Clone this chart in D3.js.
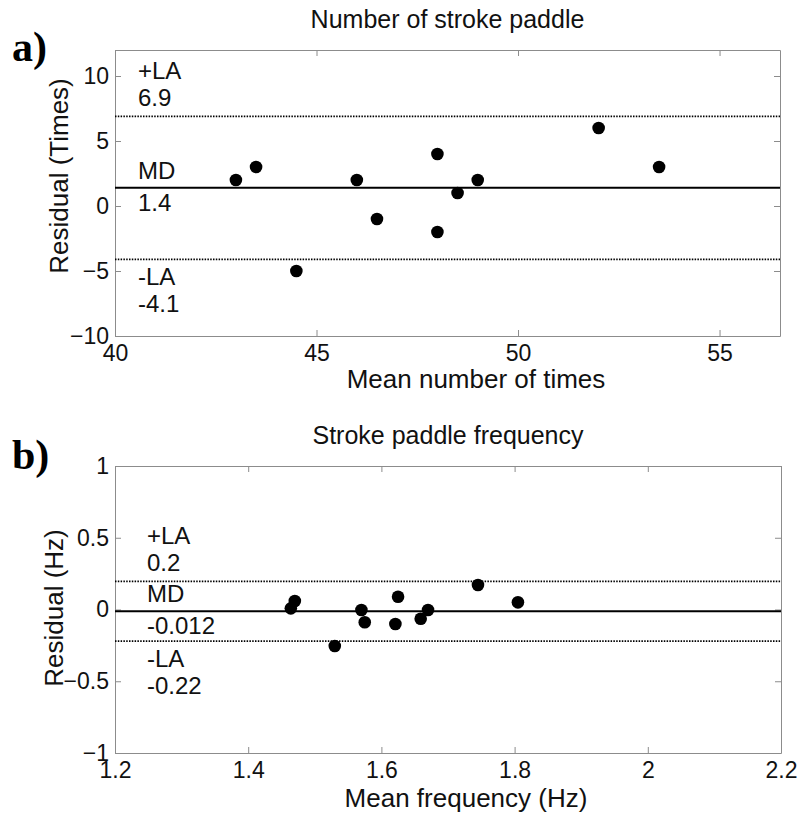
<!DOCTYPE html>
<html>
<head>
<meta charset="utf-8">
<script src="https://cdn.jsdelivr.net/npm/d3@7"></script>
<style>
  body { margin: 0; background: #fff; }
  svg { display: block; font-family: "Liberation Sans", Arial, sans-serif; }
  .axis path, .axis line { stroke: #8c8c8c; }
  .axis text { font-size: 23px; fill: #111; font-family: "Liberation Sans", Arial, sans-serif; }
</style>
</head>
<body>
<svg id="chart"></svg>
<script>
//////////////// Daten ////////////////////
// a) Number of stroke paddle
const strokeMean  = [43, 43.5, 44.5, 46, 46.5, 48, 48, 48.5, 49, 52, 53.5];
const strokeResid = [2, 3, -5, 2, -1, 4, -2, 1, 2, 6, 3];
const strokeLimits = [6.9, 1.4, -4.1];          // +LA, MD, -LA
const strokeLimitText = ["6.9", "1.4", "-4.1"];
const strokeXTicks = [40, 45, 50, 55];
const strokeYTicks = [-10, -5, 0, 5, 10];

// b) Stroke paddle frequency
const freqMean  = [1.464, 1.470, 1.530, 1.570, 1.575, 1.621, 1.625, 1.659, 1.670, 1.745, 1.805];
const freqResid = [0.008, 0.059, -0.254, -0.003, -0.089, -0.101, 0.089, -0.064, -0.003, 0.171, 0.050];
const freqLimits = [0.196, -0.012, -0.22];
const freqLimitText = ["0.2", "-0.012", "-0.22"];
const freqXTicks = [1.2, 1.4, 1.6, 1.8, 2, 2.2];
const freqYTicks = [-1, -0.5, 0, 0.5, 1];

const limitNames = ["+LA", "MD", "-LA"];

//////////////// Konstanten ////////////////////
const W = 801, H = 815, radius = 6.3, tick = 6;

const svg = d3.select("#chart").attr("width", W).attr("height", H);

////////////////// Panel ////////////
class Panel {
  constructor(opt) {
    const x = d3.scaleLinear().domain(opt.xDomain).range([0, opt.w]);
    const y = d3.scaleLinear().domain(opt.yDomain).range([opt.h, 0]);
    const g = svg.append("g").attr("transform", "translate(" + opt.left + "," + opt.top + ")");

    // box with inward ticks on all four sides
    g.append("g").attr("class", "axis").attr("transform", "translate(0," + opt.h + ")")
      .call(d3.axisBottom(x).tickValues(opt.xTicks).tickSize(-tick).tickSizeOuter(0).tickPadding(9).tickFormat(d3.format("")));
    g.append("g").attr("class", "axis")
      .call(d3.axisTop(x).tickValues(opt.xTicks).tickSize(-tick).tickSizeOuter(0).tickFormat(""));
    g.append("g").attr("class", "axis")
      .call(d3.axisLeft(y).tickValues(opt.yTicks).tickSize(-tick).tickSizeOuter(0).tickPadding(6).tickFormat(d3.format("")));
    g.append("g").attr("class", "axis").attr("transform", "translate(" + opt.w + ",0)")
      .call(d3.axisRight(y).tickValues(opt.yTicks).tickSize(-tick).tickSizeOuter(0).tickFormat(""));

    // limits of agreement + mean difference
    g.selectAll("line.lim")
      .data(opt.limits)
      .enter()
      .append("line")
      .attr("class", "lim")
      .attr("x1", 0).attr("x2", opt.w)
      .attr("y1", function(d) {return y(d);})
      .attr("y2", function(d) {return y(d);})
      .attr("stroke", "#000")
      .attr("stroke-width", function(d, i) {return i == 1 ? 2 : 1.8;})
      .attr("stroke-dasharray", function(d, i) {return i == 1 ? null : "1.5,1.3";});

    // labels: name + value, offsets in px relative to the line
    const nameOff = [-37, -9, 26], valOff = [-10, 23, 53];
    opt.limits.forEach(function(v, i) {
      g.append("text").attr("x", opt.labelX).attr("y", y(v) + nameOff[i])
        .attr("font-size", 24).attr("fill", "#111").text(limitNames[i]);
      g.append("text").attr("x", opt.labelX).attr("y", y(v) + valOff[i])
        .attr("font-size", 24).attr("fill", "#111").text(opt.limitText[i]);
    });

    // points
    g.selectAll("circle")
      .data(d3.zip(opt.xs, opt.ys))
      .enter()
      .append("circle")
      .attr("cx", function(d) {return x(d[0]);})
      .attr("cy", function(d) {return y(d[1]);})
      .attr("r", radius)
      .attr("fill", "#000");

    // title, axis labels, panel letter
    svg.append("text").attr("x", opt.left + opt.w / 2).attr("y", opt.top - 22)
      .attr("text-anchor", "middle").attr("font-size", 25).attr("fill", "#111").text(opt.title);
    svg.append("text").attr("x", opt.xLabelX).attr("y", opt.top + opt.h + opt.xLabelDy)
      .attr("text-anchor", "middle").attr("font-size", 26).attr("fill", "#111").text(opt.xLabel);
    svg.append("text").attr("transform", "translate(" + opt.yLabelPos + ") rotate(-90)")
      .attr("text-anchor", "middle").attr("font-size", 26).attr("fill", "#111").text(opt.yLabel);
    svg.append("text").attr("x", 12).attr("y", opt.letterY)
      .attr("font-family", "'Liberation Serif', 'Times New Roman', serif")
      .attr("font-weight", "bold").attr("font-size", 42).text(opt.letter);
  }
}

new Panel({
  left: 115, top: 50, w: 665, h: 286,
  xDomain: [40, 56.5], yDomain: [-10, 12],
  xTicks: strokeXTicks, yTicks: strokeYTicks,
  xs: strokeMean, ys: strokeResid,
  limits: strokeLimits, limitText: strokeLimitText, labelX: 23,
  title: "Number of stroke paddle",
  xLabel: "Mean number of times", xLabelX: 476, xLabelDy: 52,
  yLabel: "Residual (Times)", yLabelPos: "68,176",
  letter: "a)", letterY: 61
});

new Panel({
  left: 115, top: 466, w: 666, h: 287,
  xDomain: [1.2, 2.2], yDomain: [-1, 1],
  xTicks: freqXTicks, yTicks: freqYTicks,
  xs: freqMean, ys: freqResid,
  limits: freqLimits, limitText: freqLimitText, labelX: 32,
  title: "Stroke paddle frequency",
  xLabel: "Mean frequency (Hz)", xLabelX: 466, xLabelDy: 54,
  yLabel: "Residual (Hz)", yLabelPos: "63,608",
  letter: "b)", letterY: 469
});
</script>
</body>
</html>
